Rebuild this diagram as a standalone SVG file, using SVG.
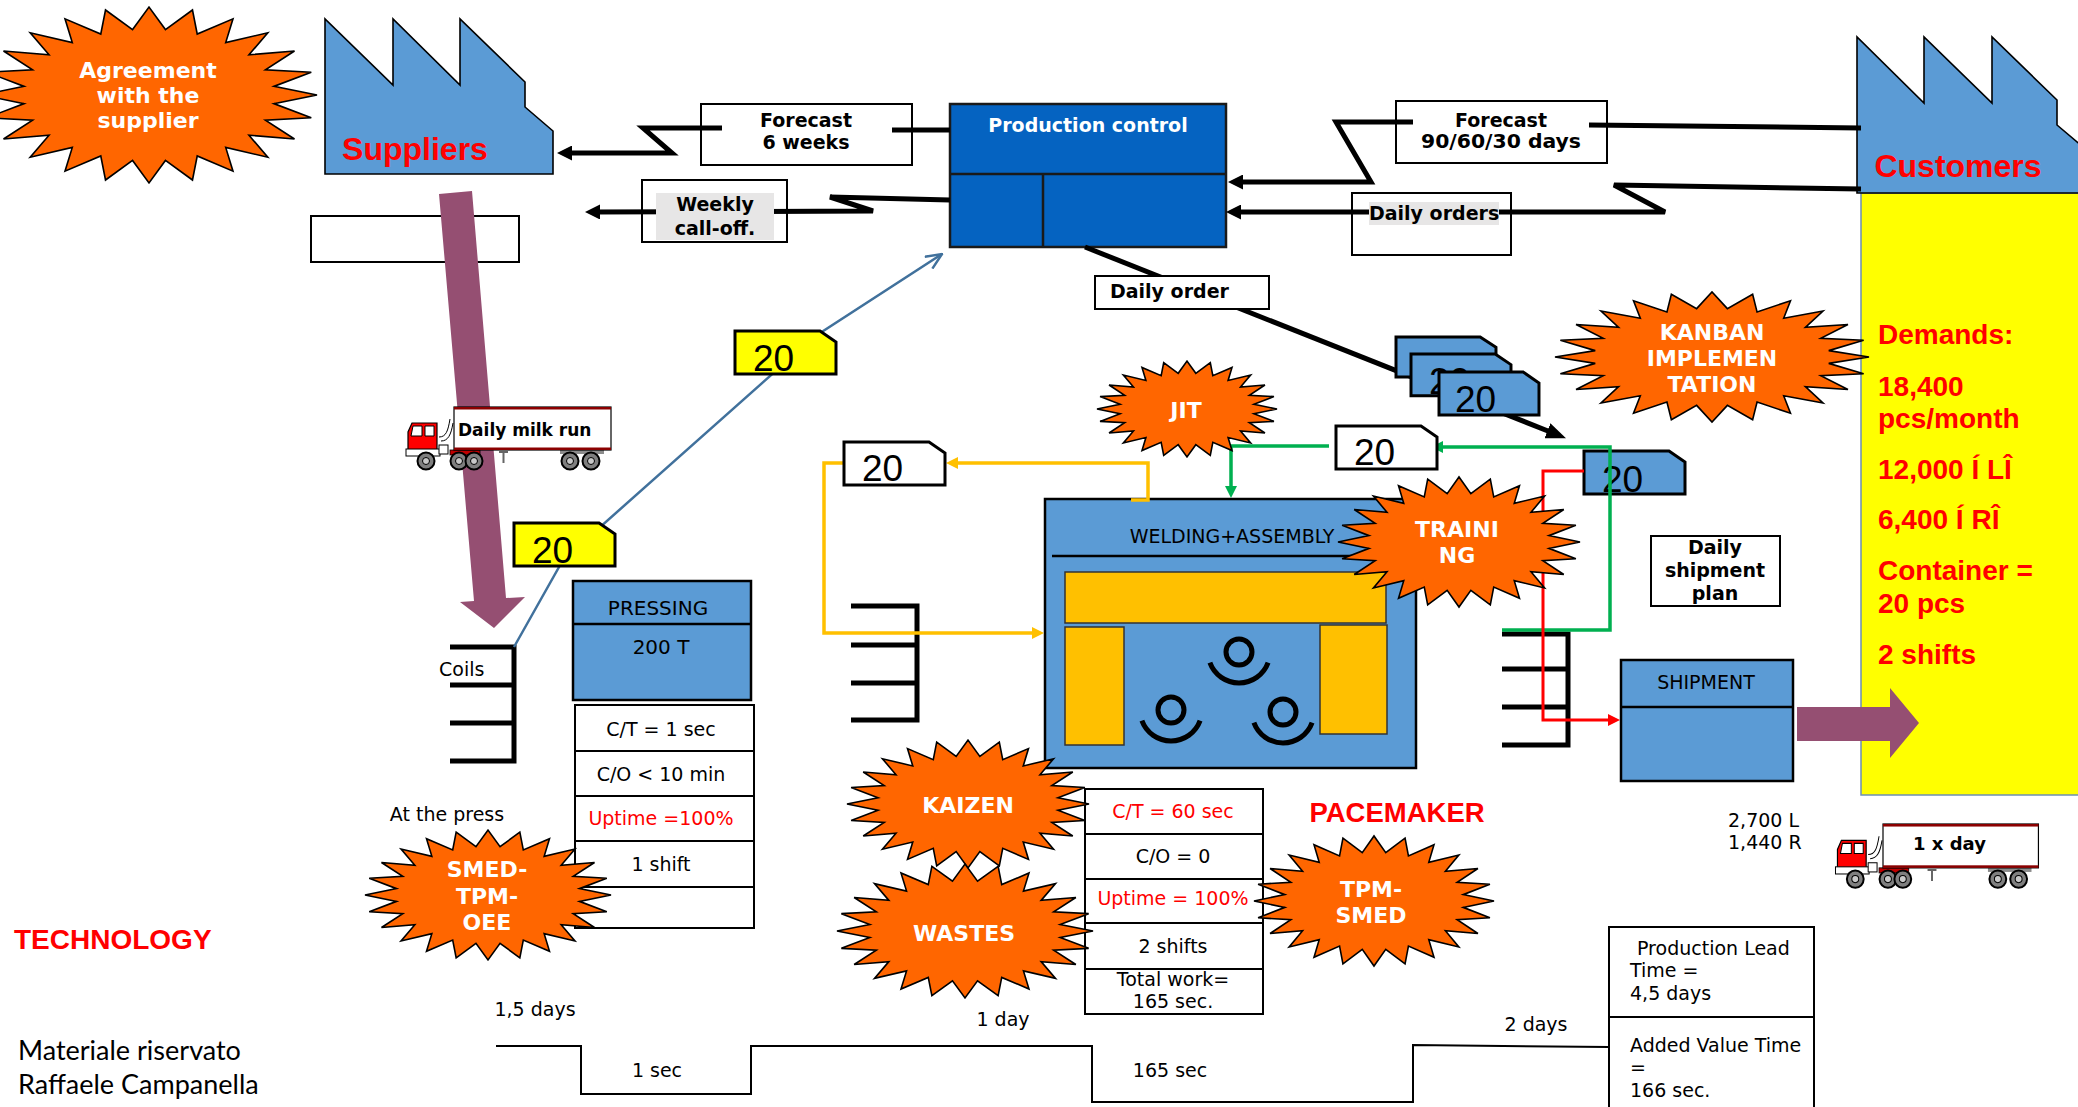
<svg xmlns="http://www.w3.org/2000/svg" width="2078" height="1107" viewBox="0 0 2078 1107">
<style>
 text{font-family:"DejaVu Sans",Verdana,sans-serif;font-size:19px;fill:#000}
 .b{font-weight:bold}
 .c{text-anchor:middle}
 .r{fill:#FF0000}
 .burst{fill:#FF6600;stroke:#000;stroke-width:1.6}
 .bt{font-weight:bold;font-size:22px;fill:#fff;text-anchor:middle}
 .big{font-family:"Liberation Sans",Arial,sans-serif;font-weight:bold;fill:#FF0000}
 .f32{font-size:32px}
 .f28{font-size:28px}
 .num{font-family:"Liberation Sans",Arial,sans-serif;font-size:37px}
 .box{fill:none;stroke:#000;stroke-width:2}
 .wbox{fill:#fff;stroke:#000;stroke-width:2}
 .proc{fill:#5B9BD5;stroke:#000;stroke-width:2.5}
 .inv{stroke:#000;stroke-width:5;fill:none}
 .info{stroke:#000;stroke-width:5;fill:none}
 .tl{stroke:#000;stroke-width:2;fill:none}
 .foot{font-family:Lato,"Open Sans",sans-serif;font-size:27px;fill:#000}
 .ws{fill:#FFC000;stroke:#333;stroke-width:1.5}
 .op{fill:none;stroke:#000;stroke-width:5}
</style>
<defs>
 <polygon id="star" vector-effect="non-scaling-stroke" points="1,0 .7436,.0979 .9659,.2588 .6929,.287 .866,.5 .595,.4566 .7071,.7071 .4566,.595 .5,.866 .287,.6929 .2588,.9659 .0979,.7436 0,1 -.0979,.7436 -.2588,.9659 -.287,.6929 -.5,.866 -.4566,.595 -.7071,.7071 -.595,.4566 -.866,.5 -.6929,.287 -.9659,.2588 -.7436,.0979 -1,0 -.7436,-.0979 -.9659,-.2588 -.6929,-.287 -.866,-.5 -.595,-.4566 -.7071,-.7071 -.4566,-.595 -.5,-.866 -.287,-.6929 -.2588,-.9659 -.0979,-.7436 0,-1 .0979,-.7436 .2588,-.9659 .287,-.6929 .5,-.866 .4566,-.595 .7071,-.7071 .595,-.4566 .866,-.5 .6929,-.287 .9659,-.2588 .7436,-.0979"/>
 <path id="card" d="M0,0H85L101,11V43H0Z"/>
 <marker id="ah" markerUnits="userSpaceOnUse" viewBox="0 0 15 15" markerWidth="15" markerHeight="15" refX="5" refY="7.5" orient="auto"><path d="M0,0L15,7.5L0,15Z" fill="#000"/></marker>
 <marker id="ahBig" markerUnits="userSpaceOnUse" viewBox="0 0 20 16" markerWidth="20" markerHeight="16" refX="6" refY="8" orient="auto"><path d="M0,0L20,8L0,16Z" fill="#000"/></marker>
 <marker id="ahAmber" markerUnits="userSpaceOnUse" viewBox="0 0 12 12" markerWidth="12" markerHeight="12" refX="3" refY="6" orient="auto"><path d="M0,0L12,6L0,12Z" fill="#FFC000"/></marker>
 <marker id="ahGreen" markerUnits="userSpaceOnUse" viewBox="0 0 12 12" markerWidth="12" markerHeight="12" refX="3" refY="6" orient="auto"><path d="M0,0L12,6L0,12Z" fill="#00B050"/></marker>
 <marker id="ahRed" markerUnits="userSpaceOnUse" viewBox="0 0 12 12" markerWidth="12" markerHeight="12" refX="3" refY="6" orient="auto"><path d="M0,0L12,6L0,12Z" fill="#FF0000"/></marker>
 <marker id="ahOpen" markerUnits="userSpaceOnUse" viewBox="0 0 18 16" markerWidth="18" markerHeight="16" refX="17" refY="8" orient="auto"><path d="M1,1L17,8L1,15" fill="none" stroke="#41719C" stroke-width="2.5"/></marker>
 <g id="truck">
  <path d="M-15,30C-8,30 -6,24 -4,12M-13,34C-6,34 -3,28 -1,16" stroke="#000" stroke-width="1" fill="none"/>
  <rect x="-4" y="43" width="30" height="5" fill="#C00000" stroke="#000" stroke-width=".8"/>
  <rect x="106" y="43" width="44" height="4" fill="#8c8c8c"/>
  <path d="M45,45H54M49.5,45V56" stroke="#666" stroke-width="2"/>
  <rect x="0" y="0" width="157" height="43" fill="#fff" stroke="#000" stroke-width="1.2"/>
  <rect x="0" y="0" width="157" height="2.5" fill="#8B0000"/>
  <rect x="0" y="40.5" width="157" height="2.5" fill="#8B0000"/>
  <path d="M-46,46V25L-42,16H-17V46Z" fill="#FF0000" stroke="#000" stroke-width="1.2"/>
  <path d="M-41,19H-32V29H-43ZM-29,19H-20V29H-29Z" fill="#fff" stroke="#000" stroke-width="1"/>
  <rect x="-48" y="42" width="34" height="7" fill="#fff" stroke="#000" stroke-width="1"/>
  <rect x="-15" y="38" width="9" height="9" fill="#fff" stroke="#000" stroke-width="1"/>
  <g fill="#7f7f7f" stroke="#000" stroke-width="2">
   <circle cx="-28" cy="54" r="8.5"/><circle cx="5" cy="54" r="8.5"/><circle cx="20" cy="54" r="8.5"/><circle cx="116" cy="54" r="8.5"/><circle cx="137" cy="54" r="8.5"/>
  </g>
  <g fill="#c8c8c8" stroke="#000" stroke-width="1">
   <circle cx="-28" cy="54" r="3.5"/><circle cx="5" cy="54" r="3.5"/><circle cx="20" cy="54" r="3.5"/><circle cx="116" cy="54" r="3.5"/><circle cx="137" cy="54" r="3.5"/>
  </g>
 </g>
</defs>

<rect width="2078" height="1107" fill="#fff"/>

<!-- process, supplier and customer nodes -->
<g id="suppliers">
 <polygon points="325,174 325,19 393,85 393,19 460,85 460,19 525,82 525,107 553,131 553,174" fill="#5B9BD5" stroke="#000" stroke-width="1.6"/>
 <text class="big f32 c" x="415" y="160">Suppliers</text>
</g>
<g id="supplier-note"><rect x="311" y="216" width="208" height="46" class="box" stroke="#333"/></g>
<g id="customers">
 <rect x="1861" y="193" width="230" height="602" fill="#FFFF00" stroke="#6d8fb3" stroke-width="1.5"/>
 <polygon points="1857,193 1857,37 1924,103 1924,37 1992,103 1992,37 2057,100 2057,125 2090,153 2090,193" fill="#5B9BD5" stroke="#000" stroke-width="1.6"/>
 <text class="big f32 c" x="1958" y="177">Customers</text>
 <text class="big f28" x="1878" y="344">Demands:</text>
 <text class="big f28" x="1878" y="396">18,400</text>
 <text class="big f28" x="1878" y="428">pcs/month</text>
 <text class="big f28" x="1878" y="479">12,000 Í LÎ</text>
 <text class="big f28" x="1878" y="529">6,400 Í RÎ</text>
 <text class="big f28" x="1878" y="580">Container =</text>
 <text class="big f28" x="1878" y="613">20 pcs</text>
 <text class="big f28" x="1878" y="664">2 shifts</text>
</g>
<g id="production-control">
 <rect x="950" y="104" width="276" height="143" fill="#0563C1" stroke="#1a1a1a" stroke-width="2.5"/>
 <path d="M950,174H1226M1043,174V247" stroke="#1a1a1a" stroke-width="2.5"/>
 <text class="b c" x="1088" y="132" style="fill:#fff">Production control</text>
</g>
<g id="inv-coils">
 <path class="inv" d="M450,647H514M450,685H514M450,723H514M450,761H514M514,644.5V763.5"/>
 <text x="439" y="676">Coils</text>
</g>
<g id="inv-wip">
 <path class="inv" d="M851,606H917M851,645H917M851,683H917M851,720H917M917,603.5V722.5"/>
</g>
<g id="inv-fg">
 <path class="inv" d="M1502,634H1568M1502,669H1568M1502,707H1568M1502,745H1568M1568,631.5V747.5"/>
</g>
<g id="pressing">
 <rect class="proc" x="573" y="581" width="178" height="119"/>
 <path d="M573,624H751" stroke="#000" stroke-width="2.5"/>
 <text class="c" x="658" y="615" style="font-size:20px">PRESSING</text>
 <text class="c" x="661" y="654" style="font-size:20px">200 T</text>
</g>
<g id="pressing-data">
 <rect class="box" x="575" y="705" width="179" height="223"/>
 <path d="M575,751H754M575,796H754M575,841H754M575,887H754" stroke="#000" stroke-width="2"/>
 <text class="c" x="661" y="736">C/T = 1 sec</text>
 <text class="c" x="661" y="781">C/O &lt; 10 min</text>
 <text class="c r" x="661" y="825">Uptime =100%</text>
 <text class="c" x="661" y="871">1 shift</text>
</g>
<g id="welding-assembly">
 <rect class="proc" x="1045" y="499" width="371" height="269"/>
 <path d="M1052,556H1405" stroke="#000" stroke-width="2.5"/>
 <text class="c" x="1232" y="543">WELDING+ASSEMBLY</text>
 <rect class="ws" x="1065" y="572" width="321" height="51"/>
 <rect class="ws" x="1065" y="627" width="59" height="118"/>
 <rect class="ws" x="1320" y="625" width="67" height="109"/>
 <circle class="op" cx="1239" cy="652" r="13"/>
 <path class="op" d="M1209.9,662.6A31,31 0 0 0 1268.1,662.6"/>
 <circle class="op" cx="1171" cy="710" r="13"/>
 <path class="op" d="M1141.9,720.6A31,31 0 0 0 1200.1,720.6"/>
 <circle class="op" cx="1283" cy="712" r="13"/>
 <path class="op" d="M1253.9,722.6A31,31 0 0 0 1312.1,722.6"/>
</g>
<g id="welding-data">
 <rect class="box" x="1085" y="789" width="178" height="225"/>
 <path d="M1085,834H1263M1085,879H1263M1085,923H1263M1085,969H1263" stroke="#000" stroke-width="2"/>
 <text class="c r" x="1173" y="818">C/T = 60 sec</text>
 <text class="c" x="1173" y="863">C/O = 0</text>
 <text class="c r" x="1173" y="905">Uptime = 100%</text>
 <text class="c" x="1173" y="953">2 shifts</text>
 <text class="c" x="1173" y="986">Total work=</text>
 <text class="c" x="1173" y="1008">165 sec.</text>
</g>
<g id="shipment">
 <rect class="proc" x="1621" y="660" width="172" height="121"/>
 <path d="M1621,707H1793" stroke="#000" stroke-width="2.5"/>
 <text class="c" x="1706" y="689">SHIPMENT</text>
</g>
<g id="kanban-production">
 <use href="#card" transform="translate(1584,451)" fill="#5B9BD5" stroke="#000" stroke-width="3"/>
 <text class="num" x="1602" y="492">20</text>
</g>
<g id="timeline">
 <path class="tl" d="M496,1046H581V1094H751V1046H1092V1102H1413V1045L1609,1047"/>
 <text class="c" x="535" y="1016">1,5 days</text>
 <text class="c" x="657" y="1077">1 sec</text>
 <text class="c" x="1003" y="1026">1 day</text>
 <text class="c" x="1170" y="1077">165 sec</text>
 <text class="c" x="1536" y="1031">2 days</text>
</g>
<g id="lead-time">
 <rect class="box" x="1609" y="927" width="205" height="190"/>
 <path d="M1609,1017H1814" stroke="#000" stroke-width="2"/>
 <text x="1637" y="955">Production Lead</text>
 <text x="1630" y="977">Time =</text>
 <text x="1630" y="1000">4,5 days</text>
 <text x="1630" y="1052">Added Value Time</text>
 <text x="1630" y="1074">=</text>
 <text x="1630" y="1097">166 sec.</text>
</g>

<!-- flows: information, material, kanban loops -->
<g id="connectors">
 <polygon points="439,194 472,191 506,598 525,597 494,628 460,602 474,601" fill="#954F72"/>
 <polygon points="1797,707 1890,707 1890,688 1919,723 1890,758 1890,741 1797,741" fill="#954F72"/>
 <path class="info" d="M950,130H892"/>
 <path class="info" d="M722,128H643L672,153H567" marker-end="url(#ah)"/>
 <path class="info" d="M950,200L830,197L873,211L595,212" marker-end="url(#ah)"/>
 <path class="info" d="M1589,125L1861,128"/>
 <path class="info" d="M1413,122H1336L1371,182H1238" marker-end="url(#ah)"/>
 <path class="info" d="M1861,189L1614,185L1665,212H1236" marker-end="url(#ah)"/>
 <path class="info" d="M1085,247L1553,433" marker-end="url(#ahBig)"/>
 <path d="M514,647L563,560L814,337L942,254" fill="none" stroke="#41719C" stroke-width="2.5" marker-end="url(#ahOpen)"/>
 <path d="M1131,500H1148V463H955" fill="none" stroke="#FFC000" stroke-width="3.5" marker-end="url(#ahAmber)"/>
 <path d="M844,463H824V633H1035" fill="none" stroke="#FFC000" stroke-width="3.5" marker-end="url(#ahAmber)"/>
 <path d="M1329,446H1231V489" fill="none" stroke="#00B050" stroke-width="3.5" marker-end="url(#ahGreen)"/>
 <path d="M1502,630H1610V447H1440" fill="none" stroke="#00B050" stroke-width="3.5" marker-end="url(#ahGreen)"/>
 <path d="M1584,471H1543V720H1611" fill="none" stroke="#FF0000" stroke-width="3" marker-end="url(#ahRed)"/>
</g>

<!-- labels and cards drawn over the flows -->
<g id="forecast-6w">
 <rect class="box" x="701" y="104" width="211" height="61"/>
 <text class="b c" x="806" y="127">Forecast</text>
 <text class="b c" x="806" y="149">6 weeks</text>
</g>
<g id="weekly-calloff">
 <rect class="box" x="642" y="180" width="145" height="62" stroke="#333"/>
 <rect x="656" y="193" width="118" height="47" fill="#E7E6E6"/>
 <text class="b c" x="715" y="211">Weekly</text>
 <text class="b c" x="715" y="235">call-off.</text>
</g>
<g id="forecast-90">
 <rect x="1413" y="106" width="176" height="52" fill="#fff"/>
 <rect class="box" x="1396" y="101" width="211" height="62" stroke="#333"/>
 <text class="b c" x="1501" y="127">Forecast</text>
 <text class="b c" x="1501" y="148" textLength="160" lengthAdjust="spacingAndGlyphs">90/60/30 days</text>
</g>
<g id="daily-orders">
 <rect class="box" x="1352" y="193" width="159" height="62" stroke="#444"/>
 <rect x="1369" y="202" width="130" height="23" fill="#E7E6E6"/>
 <text class="b" x="1369" y="220">Daily orders</text>
</g>
<g id="daily-order">
 <rect class="wbox" x="1095" y="276" width="174" height="33"/>
 <text class="b" x="1110" y="298">Daily order</text>
</g>
<g id="kanban-stack">
 <use href="#card" transform="translate(1396,337) scale(.99,.93)" fill="#5B9BD5" stroke="#000" stroke-width="3"/>
 <use href="#card" transform="translate(1411,354) scale(.99,.97)" fill="#5B9BD5" stroke="#000" stroke-width="3"/>
 <text class="num" x="1429" y="394">20</text>
 <use href="#card" transform="translate(1439,372) scale(.99,1)" fill="#5B9BD5" stroke="#000" stroke-width="3"/>
 <text class="num" x="1455" y="412">20</text>
</g>
<g id="kanban-signal-a">
 <use href="#card" transform="translate(735,331)" fill="#FFFF00" stroke="#000" stroke-width="3"/>
 <text class="num" x="753" y="371">20</text>
</g>
<g id="kanban-signal-b">
 <use href="#card" transform="translate(514,523)" fill="#FFFF00" stroke="#000" stroke-width="3"/>
 <text class="num" x="532" y="563">20</text>
</g>
<g id="kanban-withdrawal-1">
 <use href="#card" transform="translate(844,442)" fill="#fff" stroke="#000" stroke-width="3"/>
 <text class="num" x="862" y="481">20</text>
</g>
<g id="kanban-withdrawal-2">
 <use href="#card" transform="translate(1336,426)" fill="#fff" stroke="#000" stroke-width="3"/>
 <text class="num" x="1354" y="465">20</text>
</g>
<g id="shipment-plan">
 <rect class="box" x="1651" y="536" width="129" height="70" stroke="#333"/>
 <text class="b c" x="1715" y="554">Daily</text>
 <text class="b c" x="1715" y="577">shipment</text>
 <text class="b c" x="1715" y="600">plan</text>
</g>
<g id="truck-milk-run">
 <use href="#truck" transform="translate(454,407)"/>
 <text class="b" x="458" y="436" style="font-size:17px">Daily milk run</text>
</g>
<g id="truck-shipping">
 <use href="#truck" transform="translate(1883,824) scale(.99,1.02)"/>
 <text class="b" x="1913" y="850" style="font-size:18px">1 x day</text>
</g>
<g id="volumes">
 <text x="1728" y="827">2,700 L</text>
 <text x="1728" y="849">1,440 R</text>
</g>
<g id="at-press"><text class="c" x="447" y="821">At the press</text></g>
<g id="pacemaker"><text class="big c" x="1397" y="822" style="font-size:27.5px">PACEMAKER</text></g>
<g id="technology"><text class="big f28" x="14" y="949">TECHNOLOGY</text></g>
<g id="footer">
 <text class="foot" x="18" y="1060">Materiale riservato</text>
 <text class="foot" x="18" y="1094">Raffaele Campanella</text>
</g>

<!-- improvement bursts -->
<g id="burst-agreement">
 <use href="#star" class="burst" transform="translate(149,95) scale(168,88)"/>
 <text class="bt" x="148" y="78">Agreement</text>
 <text class="bt" x="148" y="103">with the</text>
 <text class="bt" x="148" y="128">supplier</text>
</g>
<g id="burst-smed-press">
 <use href="#star" class="burst" transform="translate(488,895) scale(123,65)"/>
 <text class="bt" x="487" y="877">SMED-</text>
 <text class="bt" x="487" y="904">TPM-</text>
 <text class="bt" x="487" y="930">OEE</text>
</g>
<g id="burst-jit">
 <use href="#star" class="burst" transform="translate(1187,409) scale(90,48)"/>
 <text class="bt" x="1186" y="418">JIT</text>
</g>
<g id="burst-kanban">
 <use href="#star" class="burst" transform="translate(1712,357) scale(157,65)"/>
 <text class="bt" x="1712" y="340">KANBAN</text>
 <text class="bt" x="1712" y="366">IMPLEMEN</text>
 <text class="bt" x="1712" y="392">TATION</text>
</g>
<g id="burst-training">
 <use href="#star" class="burst" transform="translate(1459,542) scale(121,65)"/>
 <text class="bt" x="1457" y="537">TRAINI</text>
 <text class="bt" x="1457" y="563">NG</text>
</g>
<g id="burst-kaizen">
 <use href="#star" class="burst" transform="translate(968,804) scale(121,64)"/>
 <text class="bt" x="968" y="813">KAIZEN</text>
</g>
<g id="burst-wastes">
 <use href="#star" class="burst" transform="translate(965,931) scale(128,67)"/>
 <text class="bt" x="964" y="941">WASTES</text>
</g>
<g id="burst-tpm-smed">
 <use href="#star" class="burst" transform="translate(1374,901) scale(120,65)"/>
 <text class="bt" x="1371" y="897">TPM-</text>
 <text class="bt" x="1371" y="923">SMED</text>
</g>
</svg>
